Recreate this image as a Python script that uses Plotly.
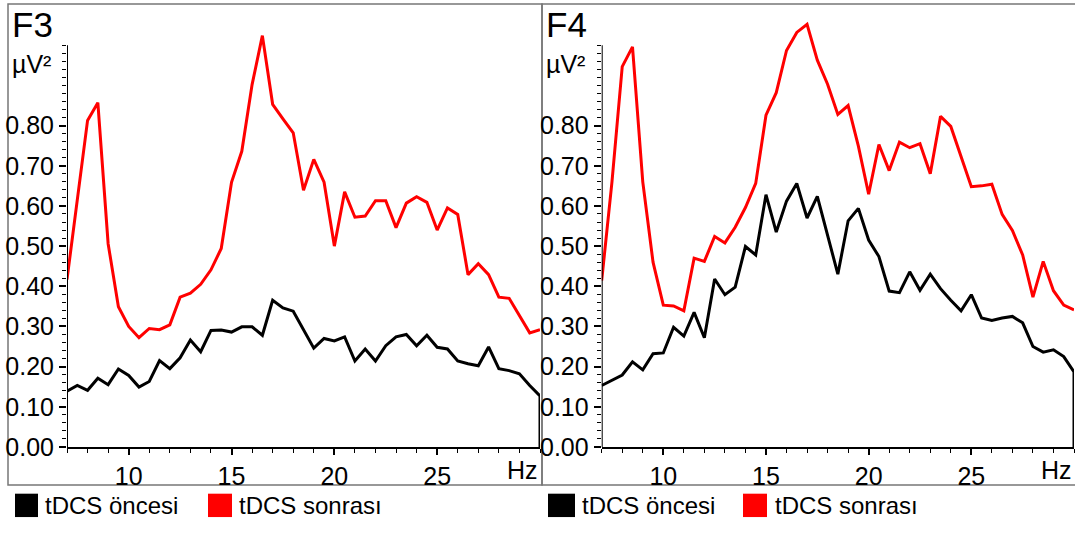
import plotly.graph_objects as go

# ---------------- data ----------------
hz = [7.0, 7.5, 8.0, 8.5, 9.0, 9.5, 10.0, 10.5, 11.0, 11.5, 12.0, 12.5, 13.0, 13.5,
      14.0, 14.5, 15.0, 15.5, 16.0, 16.5, 17.0, 17.5, 18.0, 18.5, 19.0, 19.5, 20.0,
      20.5, 21.0, 21.5, 22.0, 22.5, 23.0, 23.5, 24.0, 24.5, 25.0, 25.5, 26.0, 26.5,
      27.0, 27.5, 28.0, 28.5, 29.0, 29.5, 30.0]

# F3 - tDCS öncesi (black)
f3_oncesi = [0.139, 0.153, 0.141, 0.171, 0.155, 0.194, 0.178, 0.149, 0.163, 0.215,
             0.195, 0.222, 0.266, 0.237, 0.290, 0.291, 0.286, 0.299, 0.299, 0.278,
             0.365, 0.346, 0.338, 0.292, 0.246, 0.270, 0.264, 0.274, 0.214, 0.244,
             0.214, 0.252, 0.274, 0.280, 0.252, 0.278, 0.248, 0.244, 0.214, 0.207,
             0.202, 0.249, 0.195, 0.190, 0.182, 0.153, 0.127]
# F3 - tDCS sonrası (red)
f3_sonrasi = [0.417, 0.610, 0.813, 0.857, 0.506, 0.349, 0.300, 0.272, 0.295, 0.292,
              0.304, 0.373, 0.383, 0.405, 0.441, 0.494, 0.659, 0.736, 0.902, 1.024,
              0.853, 0.817, 0.782, 0.639, 0.716, 0.659, 0.500, 0.635, 0.572, 0.575,
              0.613, 0.613, 0.546, 0.607, 0.623, 0.609, 0.540, 0.595, 0.579, 0.429,
              0.456, 0.429, 0.373, 0.370, 0.328, 0.284, 0.292]

# F4 - tDCS öncesi (black)
f4_oncesi = [0.153, 0.167, 0.179, 0.212, 0.192, 0.232, 0.234, 0.298, 0.276, 0.335,
             0.272, 0.418, 0.379, 0.398, 0.499, 0.478, 0.628, 0.535, 0.612, 0.656,
             0.570, 0.624, 0.527, 0.430, 0.563, 0.594, 0.515, 0.474, 0.388, 0.384,
             0.436, 0.390, 0.430, 0.394, 0.365, 0.339, 0.379, 0.321, 0.315, 0.321,
             0.325, 0.309, 0.250, 0.236, 0.242, 0.225, 0.187]
# F4 - tDCS sonrası (red)
f4_sonrasi = [0.414, 0.660, 0.947, 0.996, 0.660, 0.460, 0.353, 0.351, 0.339, 0.470,
              0.462, 0.524, 0.508, 0.547, 0.596, 0.656, 0.826, 0.882, 0.987, 1.032,
              1.052, 0.963, 0.903, 0.828, 0.850, 0.749, 0.629, 0.753, 0.688, 0.759,
              0.745, 0.755, 0.680, 0.823, 0.798, 0.723, 0.648, 0.650, 0.654, 0.579,
              0.539, 0.478, 0.373, 0.462, 0.389, 0.353, 0.341]

# black curve closes down to the baseline at the last frequency
end_drop_hz = [30.0]
end_drop_val = [0.0]

panels = ["F3", "F4"]
series_names = ["tDCS öncesi", "tDCS sonrası"]
series_colors = ["#000000", "#ff0000"]

y_major = [0.0, 0.1, 0.2, 0.3, 0.4, 0.5, 0.6, 0.7, 0.8, 0.9, 1.0]
y_major_text = ["0.00", "0.10", "0.20", "0.30", "0.40", "0.50", "0.60", "0.70", "0.80", "", ""]
y_minor = [i / 50 for i in range(0, 51)]
x_major = [10, 15, 20, 25]
x_minor = list(range(7, 31))

# ---------------- figure ----------------
W, H = 1075, 533
FONT = "Liberation Sans, Arial, sans-serif"
TICK_SIZE = 25


def px(x):
    return x / W


def py(y):
    return (H - y) / H


fig = go.Figure()

data_sets = [(f3_oncesi, f3_sonrasi), (f4_oncesi, f4_sonrasi)]
for i, (before, after) in enumerate(data_sets):
    xa = "x" if i == 0 else "x2"
    ya = "y" if i == 0 else "y2"
    fig.add_trace(go.Scatter(x=hz + end_drop_hz, y=before + end_drop_val, mode="lines",
                             line=dict(color=series_colors[0], width=3),
                             name=series_names[0], xaxis=xa, yaxis=ya, showlegend=False))
    fig.add_trace(go.Scatter(x=hz, y=after, mode="lines",
                             line=dict(color=series_colors[1], width=3),
                             name=series_names[1], xaxis=xa, yaxis=ya, showlegend=False))

y_dom = [py(459), py(459 - 1.1 * 412.5)]
x_doms = [[px(67), px(540)], [px(601.7), px(1074)]]

common_x = dict(range=[7, 30], showgrid=False, zeroline=False, showline=True,
                linecolor="black", linewidth=2, ticks="outside", ticklen=6,
                tickwidth=1.5, tickcolor="black", tickvals=x_major,
                ticktext=[str(v) for v in x_major],
                tickfont=dict(family=FONT, size=TICK_SIZE, color="black"),
                minor=dict(tickmode="array", tickvals=x_minor, ticks="outside",
                           ticklen=4, tickwidth=1.2, tickcolor="black"))
common_y = dict(range=[0, 1.1], showgrid=False, zeroline=False, showline=False,
                ticks="outside", ticklen=7, tickwidth=1.5, tickcolor="black",
                tickvals=y_major, ticktext=y_major_text,
                tickfont=dict(family=FONT, size=TICK_SIZE, color="black"),
                minor=dict(tickmode="array", tickvals=y_minor, ticks="outside",
                           ticklen=4, tickwidth=1.2, tickcolor="black"))

fig.update_layout(
    width=W, height=H, autosize=False, margin=dict(l=0, r=0, t=0, b=0, pad=0),
    paper_bgcolor="white", plot_bgcolor="white", showlegend=False,
    xaxis=dict(domain=x_doms[0], anchor="y", **common_x),
    yaxis=dict(domain=y_dom, anchor="x", **common_y),
    xaxis2=dict(domain=x_doms[1], anchor="y2", **common_x),
    yaxis2=dict(domain=y_dom, anchor="x2", **common_y),
)

shapes = []
annotations = []
# panel frames
frames = [(8, 542), (542, 1076)]
for (x0, x1) in frames:
    shapes.append(dict(type="rect", xref="paper", yref="paper",
                       x0=px(x0), x1=px(x1), y0=py(498), y1=py(4),
                       line=dict(color="#777777", width=1.5), layer="below"))
# y-axis lines (stop at 1.0)
for i in range(2):
    xr = "x" if i == 0 else "x2"
    yr = "y" if i == 0 else "y2"
    shapes.append(dict(type="line", xref=xr, yref=yr, x0=7, x1=7, y0=0, y1=1.0,
                       line=dict(color="black", width=2)))

title_x = [10, 544]
hz_x = [540, 1074]
for i, name in enumerate(panels):
    annotations.append(dict(text=name, x=px(title_x[i]), y=py(25), xref="paper", yref="paper",
                            xanchor="left", yanchor="middle", showarrow=False,
                            font=dict(family=FONT, size=35, color="black")))
    annotations.append(dict(text="µV²", x=px(title_x[i]), y=py(66), xref="paper", yref="paper",
                            xanchor="left", yanchor="middle", showarrow=False,
                            font=dict(family=FONT, size=25, color="black")))
    annotations.append(dict(text="Hz", x=px(hz_x[i]), y=py(483), xref="paper", yref="paper",
                            xanchor="right", yanchor="middle", showarrow=False,
                            font=dict(family=FONT, size=TICK_SIZE, color="black")))

# legends below each panel
legend_items = [
    [(15, 38, 43), (208, 232, 237)],
    [(548, 575, 580), (743, 767, 773)],
]
for p in range(2):
    for s in range(2):
        x0, x1, tx = legend_items[p][s]
        shapes.append(dict(type="rect", xref="paper", yref="paper",
                           x0=px(x0), x1=px(x1), y0=py(531), y1=py(507),
                           fillcolor=series_colors[s], line=dict(width=0)))
        annotations.append(dict(text=series_names[s], x=px(tx), y=py(519),
                                xref="paper", yref="paper", xanchor="left",
                                yanchor="middle", showarrow=False,
                                font=dict(family=FONT, size=24, color="black")))

fig.update_layout(shapes=shapes, annotations=annotations)

post = (
    "document.body.style.margin='0';document.body.style.overflow='hidden';"
    "var gd=document.getElementById('{plot_id}');"
    "gd.style.position='fixed';gd.style.top='0px';gd.style.left='0px';"
)
fig.write_html("out.html", config={"displayModeBar": False}, post_script=post)
